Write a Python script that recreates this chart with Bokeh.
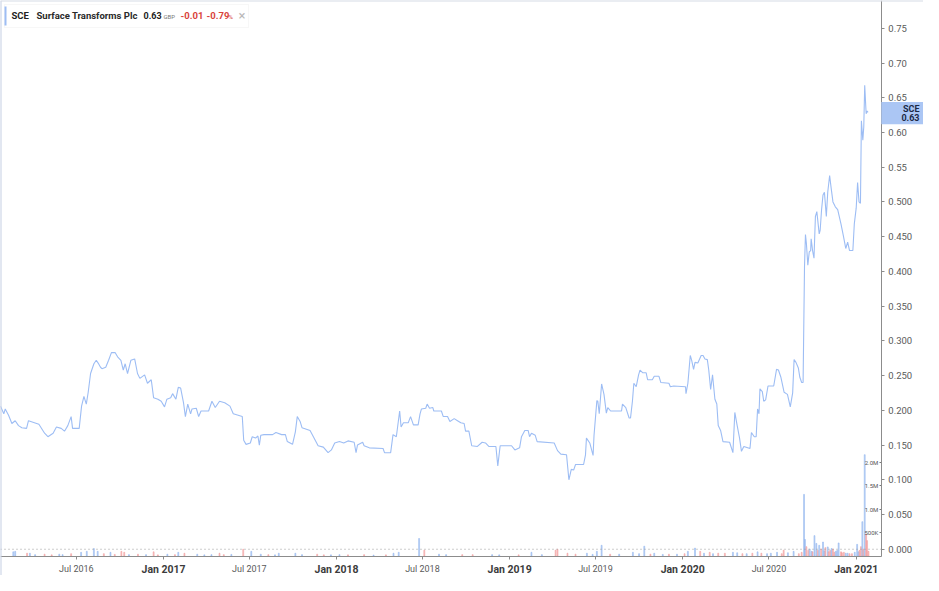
import pandas as pd
from bokeh.plotting import figure
from bokeh.models import (Range1d, FixedTicker, DatetimeTickFormatter, DatetimeAxis, LinearAxis,
                          Label, BoxAnnotation, Span, ColumnDataSource)
from bokeh.embed import file_html
from bokeh.resources import INLINE

# ---------------- data ----------------
price_dates = [
    "2016-01-23", "2016-01-30", "2016-02-02", "2016-02-09", "2016-02-16", "2016-02-23", "2016-03-01",
    "2016-03-08", "2016-03-18", "2016-03-22", "2016-04-13", "2016-04-25", "2016-05-02", "2016-05-13",
    "2016-05-20", "2016-05-30", "2016-06-06", "2016-06-13", "2016-06-20", "2016-06-23", "2016-07-07",
    "2016-07-12", "2016-07-17", "2016-07-22", "2016-07-26", "2016-07-31", "2016-08-07", "2016-08-12",
    "2016-08-16", "2016-08-21", "2016-08-24", "2016-09-01", "2016-09-07", "2016-09-13", "2016-09-21",
    "2016-09-26", "2016-10-03", "2016-10-08", "2016-10-12", "2016-10-17", "2016-10-24", "2016-11-01",
    "2016-11-07", "2016-11-12", "2016-11-22", "2016-11-28", "2016-12-06", "2016-12-11", "2016-12-20",
    "2016-12-27", "2017-01-03", "2017-01-08", "2017-01-16", "2017-01-20", "2017-01-27", "2017-02-01",
    "2017-02-06", "2017-02-12", "2017-02-16", "2017-02-21", "2017-02-27", "2017-03-02", "2017-03-11",
    "2017-03-16", "2017-03-21", "2017-04-06", "2017-04-13", "2017-04-20", "2017-04-29", "2017-05-10",
    "2017-05-21", "2017-05-28", "2017-06-16", "2017-06-19", "2017-06-24", "2017-07-03", "2017-07-07",
    "2017-07-14", "2017-07-19", "2017-07-22", "2017-07-25", "2017-08-01", "2017-08-19", "2017-08-26",
    "2017-09-07", "2017-09-15", "2017-09-19", "2017-09-30", "2017-10-06", "2017-10-10", "2017-10-16",
    "2017-10-20", "2017-11-06", "2017-11-13", "2017-11-23", "2017-12-04", "2017-12-14", "2017-12-21",
    "2017-12-28", "2018-01-07", "2018-01-16", "2018-01-25", "2018-02-07", "2018-02-11", "2018-02-14",
    "2018-02-25", "2018-02-28", "2018-03-11", "2018-04-09", "2018-04-12", "2018-04-25", "2018-04-30",
    "2018-05-07", "2018-05-14", "2018-05-17", "2018-05-22", "2018-06-01", "2018-06-06", "2018-06-12",
    "2018-06-22", "2018-06-26", "2018-06-29", "2018-07-08", "2018-07-11", "2018-07-16", "2018-07-23",
    "2018-07-25", "2018-08-10", "2018-08-14", "2018-08-23", "2018-08-28", "2018-09-06", "2018-09-13",
    "2018-09-20", "2018-09-27", "2018-09-30", "2018-10-07", "2018-10-13", "2018-10-25", "2018-11-04",
    "2018-11-11", "2018-11-18", "2018-12-03", "2018-12-07", "2018-12-12", "2019-01-05", "2019-01-12",
    "2019-01-22", "2019-01-26", "2019-02-02", "2019-02-09", "2019-02-12", "2019-02-16", "2019-02-24",
    "2019-02-28", "2019-04-05", "2019-04-12", "2019-04-19", "2019-05-01", "2019-05-06", "2019-05-11",
    "2019-05-16", "2019-05-20", "2019-06-06", "2019-06-10", "2019-06-12", "2019-06-19", "2019-06-26",
    "2019-06-28", "2019-07-04", "2019-07-06", "2019-07-09", "2019-07-14", "2019-07-19", "2019-07-24",
    "2019-07-27", "2019-08-02", "2019-08-25", "2019-08-27", "2019-09-03", "2019-09-10", "2019-09-13",
    "2019-09-17", "2019-09-20", "2019-09-25", "2019-09-30", "2019-10-03", "2019-10-09", "2019-10-16",
    "2019-10-19", "2019-10-29", "2019-11-02", "2019-11-12", "2019-11-16", "2019-12-03", "2019-12-06",
    "2019-12-13", "2020-01-07", "2020-01-08", "2020-01-12", "2020-01-17", "2020-01-20", "2020-01-24",
    "2020-01-27", "2020-02-02", "2020-02-09", "2020-02-13", "2020-02-17", "2020-02-22", "2020-02-25",
    "2020-02-29", "2020-03-04", "2020-03-09", "2020-03-13", "2020-03-16", "2020-03-21", "2020-03-26",
    "2020-04-09", "2020-04-16", "2020-04-20", "2020-04-25", "2020-04-30", "2020-05-04", "2020-05-09",
    "2020-05-22", "2020-05-25", "2020-05-31", "2020-06-04", "2020-06-07", "2020-06-10", "2020-06-12",
    "2020-06-17", "2020-06-20", "2020-06-24", "2020-06-29", "2020-07-11", "2020-07-17", "2020-07-21",
    "2020-07-26", "2020-08-02", "2020-08-09", "2020-08-15", "2020-08-20", "2020-08-23", "2020-08-27",
    "2020-09-01", "2020-09-04", "2020-09-08", "2020-09-11", "2020-09-14", "2020-09-16", "2020-09-18",
    "2020-09-21", "2020-09-24", "2020-09-27", "2020-09-28", "2020-10-01", "2020-10-04", "2020-10-07",
    "2020-10-10", "2020-10-15", "2020-10-17", "2020-10-20", "2020-10-23", "2020-10-26", "2020-10-30",
    "2020-11-02", "2020-11-06", "2020-11-09", "2020-11-13", "2020-11-18", "2020-11-23", "2020-11-30",
    "2020-12-05", "2020-12-10", "2020-12-14", "2020-12-18", "2020-12-25", "2020-12-28", "2021-01-01",
    "2021-01-04", "2021-01-07", "2021-01-10", "2021-01-12", "2021-01-15", "2021-01-17", "2021-01-19",
    "2021-01-22", "2021-01-24", "2021-01-26",
]
price_values = [
    0.206, 0.195, 0.202, 0.193, 0.181, 0.185, 0.178,
    0.175, 0.174, 0.185, 0.180, 0.167, 0.162, 0.167,
    0.176, 0.174, 0.170, 0.178, 0.191, 0.174, 0.174,
    0.206, 0.220, 0.209, 0.226, 0.253, 0.267, 0.272,
    0.268, 0.262, 0.260, 0.262, 0.272, 0.283, 0.283,
    0.277, 0.272, 0.258, 0.267, 0.253, 0.272, 0.274,
    0.253, 0.246, 0.251, 0.239, 0.244, 0.218, 0.216,
    0.213, 0.205, 0.216, 0.218, 0.224, 0.216, 0.233,
    0.232, 0.211, 0.191, 0.209, 0.195, 0.202, 0.203,
    0.191, 0.199, 0.199, 0.213, 0.204, 0.213, 0.211,
    0.206, 0.195, 0.191, 0.157, 0.151, 0.153, 0.162,
    0.160, 0.163, 0.150, 0.164, 0.165, 0.165, 0.168,
    0.165, 0.165, 0.155, 0.151, 0.169, 0.191, 0.184,
    0.175, 0.171, 0.162, 0.149, 0.147, 0.139, 0.143,
    0.153, 0.155, 0.153, 0.156, 0.154, 0.139, 0.150,
    0.154, 0.149, 0.146, 0.145, 0.139, 0.139, 0.165,
    0.162, 0.199, 0.176, 0.182, 0.182, 0.191, 0.179,
    0.179, 0.195, 0.202, 0.203, 0.209, 0.203, 0.204,
    0.199, 0.199, 0.191, 0.191, 0.184, 0.188, 0.185,
    0.182, 0.181, 0.170, 0.170, 0.149, 0.148, 0.154,
    0.153, 0.148, 0.148, 0.120, 0.149, 0.149, 0.143,
    0.146, 0.162, 0.171, 0.171, 0.162, 0.167, 0.164,
    0.155, 0.153, 0.142, 0.137, 0.136, 0.100, 0.115,
    0.114, 0.122, 0.122, 0.136, 0.160, 0.153, 0.135,
    0.164, 0.214, 0.213, 0.195, 0.238, 0.223, 0.196,
    0.204, 0.199, 0.199, 0.209, 0.204, 0.189, 0.189,
    0.213, 0.239, 0.234, 0.251, 0.258, 0.254, 0.254,
    0.244, 0.244, 0.249, 0.249, 0.240, 0.239, 0.234,
    0.235, 0.234, 0.224, 0.239, 0.279, 0.272, 0.259,
    0.269, 0.268, 0.279, 0.279, 0.274, 0.273, 0.258,
    0.230, 0.251, 0.216, 0.209, 0.178, 0.171, 0.155,
    0.154, 0.139, 0.197, 0.178, 0.160, 0.141, 0.148,
    0.145, 0.168, 0.162, 0.162, 0.202, 0.195, 0.231,
    0.227, 0.213, 0.215, 0.235, 0.235, 0.259, 0.258,
    0.248, 0.226, 0.223, 0.205, 0.225, 0.273, 0.269,
    0.261, 0.248, 0.240, 0.240, 0.407, 0.453, 0.440,
    0.409, 0.428, 0.430, 0.447, 0.430, 0.419, 0.479,
    0.486, 0.454, 0.459, 0.489, 0.510, 0.514, 0.479,
    0.514, 0.538, 0.521, 0.500, 0.493, 0.489, 0.468,
    0.451, 0.433, 0.442, 0.430, 0.430, 0.468, 0.491,
    0.528, 0.500, 0.498, 0.617, 0.589, 0.608, 0.668,
    0.627, 0.631, 0.629,
]

vol_dates = [
    "2016-02-19", "2016-02-23", "2016-03-19", "2016-03-25", "2016-04-05", "2016-04-25", "2016-05-10",
    "2016-05-26", "2016-06-02", "2016-06-20", "2016-07-11", "2016-07-23", "2016-08-07", "2016-08-15",
    "2016-08-28", "2016-09-11", "2016-09-20", "2016-10-04", "2016-10-10", "2016-10-20", "2016-11-08",
    "2016-11-25", "2016-12-11", "2016-12-20", "2017-01-09", "2017-01-25", "2017-02-01", "2017-02-14",
    "2017-03-13", "2017-03-28", "2017-04-12", "2017-04-29", "2017-05-08", "2017-05-24", "2017-06-18",
    "2017-07-05", "2017-07-25", "2017-08-10", "2017-08-24", "2017-09-01", "2017-10-06", "2017-10-20",
    "2017-11-21", "2017-12-05", "2017-12-20", "2018-01-07", "2018-01-25", "2018-02-28", "2018-03-20",
    "2018-04-15", "2018-05-01", "2018-05-12", "2018-06-24", "2018-07-05", "2018-08-05", "2018-08-20",
    "2018-09-23", "2018-10-15", "2018-11-25", "2018-12-10", "2019-01-20", "2019-02-16", "2019-03-10",
    "2019-04-08", "2019-04-12", "2019-05-03", "2019-05-20", "2019-06-13", "2019-06-25", "2019-07-04",
    "2019-07-14", "2019-08-01", "2019-08-20", "2019-09-18", "2019-10-01", "2019-10-12", "2019-10-25",
    "2019-11-02", "2019-11-20", "2019-12-03", "2019-12-20", "2020-01-05", "2020-01-12", "2020-01-27",
    "2020-02-07", "2020-02-15", "2020-02-27", "2020-03-05", "2020-03-16", "2020-03-30", "2020-04-16",
    "2020-04-25", "2020-05-06", "2020-05-15", "2020-05-27", "2020-06-07", "2020-06-15", "2020-06-27",
    "2020-07-05", "2020-07-18", "2020-07-28", "2020-08-01", "2020-08-10", "2020-08-22", "2020-09-02",
    "2020-09-08", "2020-09-13", "2020-09-15", "2020-09-18", "2020-09-22", "2020-09-25", "2020-09-29",
    "2020-10-01", "2020-10-05", "2020-10-09", "2020-10-12", "2020-10-15", "2020-10-19", "2020-10-23",
    "2020-10-26", "2020-10-28", "2020-11-02", "2020-11-04", "2020-11-07", "2020-11-10", "2020-11-13",
    "2020-11-16", "2020-11-19", "2020-11-22", "2020-11-25", "2020-11-30", "2020-12-02", "2020-12-06",
    "2020-12-10", "2020-12-14", "2020-12-18", "2020-12-23", "2020-12-29", "2021-01-03", "2021-01-06",
    "2021-01-08", "2021-01-11", "2021-01-14", "2021-01-16", "2021-01-19", "2021-01-22", "2021-01-24",
    "2021-01-27",
]
vol_values = [
    90e3, 100e3, 60e3, 60e3, 30e3, 40e3, 25e3,
    40e3, 30e3, 50e3, 80e3, 100e3, 160e3, 100e3,
    50e3, 80e3, 35e3, 100e3, 80e3, 30e3, 40e3,
    30e3, 90e3, 25e3, 40e3, 30e3, 80e3, 60e3,
    40e3, 25e3, 30e3, 60e3, 30e3, 35e3, 146e3,
    100e3, 40e3, 30e3, 25e3, 60e3, 60e3, 30e3,
    40e3, 25e3, 25e3, 30e3, 25e3, 30e3, 20e3,
    25e3, 60e3, 80e3, 375e3, 125e3, 40e3, 30e3,
    30e3, 30e3, 30e3, 25e3, 25e3, 80e3, 30e3,
    125e3, 146e3, 60e3, 40e3, 60e3, 35e3, 100e3,
    230e3, 40e3, 40e3, 80e3, 50e3, 210e3, 40e3,
    60e3, 35e3, 40e3, 40e3, 50e3, 100e3, 170e3,
    100e3, 60e3, 80e3, 50e3, 60e3, 60e3, 80e3,
    70e3, 50e3, 50e3, 60e3, 90e3, 60e3, 50e3,
    60e3, 80e3, 50e3, 125e3, 70e3, 100e3, 50e3,
    80e3, 1320e3, 354e3, 200e3, 120e3, 150e3, 100e3,
    90e3, 437e3, 270e3, 120e3, 230e3, 150e3, 300e3,
    110e3, 180e3, 195e3, 90e3, 120e3, 160e3, 150e3,
    80e3, 100e3, 120e3, 280e3, 90e3, 70e3, 80e3,
    60e3, 60e3, 50e3, 50e3, 80e3, 250e3, 90e3,
    120e3, 200e3, 735e3, 150e3, 2170e3, 470e3, 330e3,
    100e3,
]
vol_up = [
    1, 1, 0, 1, 1, 0, 0,
    1, 1, 0, 1, 1, 1, 1,
    0, 1, 0, 0, 0, 1, 0,
    1, 0, 0, 1, 0, 1, 0,
    1, 1, 1, 0, 0, 1, 0,
    1, 1, 0, 1, 1, 1, 1,
    0, 0, 1, 1, 0, 0, 1,
    0, 1, 1, 1, 0, 1, 1,
    0, 0, 1, 1, 0, 1, 1,
    0, 0, 0, 0, 1, 1, 1,
    1, 0, 1, 1, 1, 1, 0,
    1, 1, 0, 1, 0, 1, 1,
    0, 1, 0, 1, 0, 0, 1,
    1, 0, 1, 0, 1, 0, 1,
    1, 1, 0, 0, 1, 1, 0,
    0, 1, 1, 0, 0, 1, 1,
    0, 1, 1, 0, 1, 0, 1,
    1, 0, 1, 0, 0, 1, 0,
    0, 1, 1, 1, 0, 0, 0,
    1, 1, 0, 0, 1, 1, 1,
    0, 0, 1, 0, 1, 0, 0,
    0,
]

price_ticks = [0.0, 0.05, 0.1, 0.15, 0.2, 0.25, 0.3, 0.35, 0.4, 0.45, 0.5, 0.55, 0.6, 0.65, 0.7, 0.75]
price_tick_labels = ["0.000", "0.050", "0.100", "0.150", "0.200", "0.250", "0.300", "0.350",
                     "0.400", "0.450", "0.500", "0.55", "0.60", "0.65", "0.70", "0.75"]
jan_ticks = ["2017-01-01", "2018-01-01", "2019-01-01", "2020-01-01", "2021-01-01"]
jul_ticks = ["2016-07-01", "2017-07-01", "2018-07-01", "2019-07-01", "2020-07-01"]
vol_ticks = [500e3, 1.0e6, 1.5e6, 2.0e6]
vol_tick_labels = ["500K", "1.0M", "1.5M", "2.0M"]

symbol = "SCE"
name = "Surface Transforms Plc"
last_price = 0.63
change = "-0.01"
change_pct = "-0.79"
currency = "GBP"

# view window (time / price / volume) and the place of the two axes
x_start, x_end = "2016-01-23", "2021-05-23"
axis_date = "2021-02-23"          # where the price axis stands
y_start, y_end = -0.0378, 0.79
axis_price = -0.0098              # where the time axis stands
vol_start, vol_end = -416.7e3, 11.896e6

# ---------------- figure ----------------
FONT = "Roboto"
LINE = "#9dbdf4"
AX = "#8c8c8c"
W, H = 923, 575


def ms(s):
    return pd.Timestamp(s).value / 1e6


p = figure(width=W, height=H, x_axis_type="datetime", y_axis_location="right",
           output_backend="svg", toolbar_location=None,
           x_range=Range1d(ms(x_start), ms(x_end)),
           y_range=Range1d(y_start, y_end),
           min_border_left=0, min_border_top=0, min_border_right=0, min_border_bottom=0)
p.extra_y_ranges = {"vol": Range1d(vol_start, vol_end)}
p.grid.visible = False
p.outline_line_color = None
p.background_fill_color = "white"
p.border_fill_color = "white"

# frame edges (top and left)
p.add_layout(Span(location=ms(x_start), dimension="height", line_color="#c5d0e3", line_width=2))
p.add_layout(Span(location=y_end, dimension="width", line_color="#d5dbe6", line_width=2))

# last-price marker on the price axis
p.add_layout(BoxAnnotation(left=ms(axis_date), right=ms(x_end), top=0.644, bottom=0.612,
                           fill_color="#abc6f4", fill_alpha=1.0, line_color=None))

# volume bars
vsrc = ColumnDataSource(dict(
    x=pd.to_datetime(vol_dates),
    top=vol_values,
    color=["#8fb4ee" if u else "#f29a9a" for u in vol_up],
))
p.vbar(x="x", top="top", bottom=0, width=2 * 86400000, color="color", alpha=0.55,
       source=vsrc, y_range_name="vol")

# dotted zero line
p.segment(x0=[ms(x_start)], y0=[0.0], x1=[ms(axis_date)], y1=[0.0],
          line_color="#9a9a9a", line_dash="1 3", line_width=1)

# price line
psrc = ColumnDataSource(dict(x=pd.to_datetime(price_dates), y=price_values))
p.line("x", "y", source=psrc, line_color=LINE, line_width=1.1)

# ---- price axis (right) ----
ya = p.yaxis[0]
ya.fixed_location = ms(axis_date)
ya.bounds = (axis_price, y_end)
ya.ticker = FixedTicker(ticks=price_ticks)
ya.major_label_overrides = {t: l for t, l in zip(price_ticks, price_tick_labels)}
ya.axis_line_color = AX
ya.major_tick_line_color = AX
ya.major_tick_out = 3
ya.major_tick_in = 0
ya.minor_tick_line_color = None
ya.major_label_text_font = FONT
ya.major_label_text_font_size = "9.5px"
ya.major_label_text_color = "#5a5a5a"
ya.major_label_standoff = 4

# ---- volume scale (inside, left of the price axis) ----
va = LinearAxis(y_range_name="vol", fixed_location=ms(axis_date),
                ticker=FixedTicker(ticks=vol_ticks), bounds=(0, 2.2e6))
va.major_label_overrides = {t: l for t, l in zip(vol_ticks, vol_tick_labels)}
va.axis_line_color = None
va.major_tick_line_color = "#777777"
va.major_tick_out = 2
va.major_tick_in = 0
va.minor_tick_line_color = None
va.major_label_text_font = FONT
va.major_label_text_font_size = "6px"
va.major_label_text_color = "#555555"
va.major_label_standoff = 1
p.add_layout(va, "left")

# ---- time axes (Jan: bold, Jul: regular) ----
fmt = DatetimeTickFormatter(days="%b %Y", months="%b %Y", years="%b %Y")
xa = p.xaxis[0]
xa.fixed_location = axis_price
xa.bounds = (ms(x_start), ms(axis_date))
xa.ticker = FixedTicker(ticks=[ms(d) for d in jan_ticks])
xa.formatter = fmt
xa.axis_line_color = AX
xa.major_tick_line_color = AX
xa.major_tick_out = 3
xa.major_tick_in = 0
xa.minor_tick_line_color = None
xa.major_label_text_font = FONT
xa.major_label_text_font_size = "10.5px"
xa.major_label_text_font_style = "bold"
xa.major_label_text_color = "#3c3c3c"
xa.major_label_standoff = 4

xj = DatetimeAxis(fixed_location=axis_price, ticker=FixedTicker(ticks=[ms(d) for d in jul_ticks]),
                  formatter=fmt)
xj.axis_line_color = None
xj.major_tick_line_color = AX
xj.major_tick_out = 3
xj.major_tick_in = 0
xj.minor_tick_line_color = None
xj.major_label_text_font = FONT
xj.major_label_text_font_size = "9px"
xj.major_label_text_color = "#5a5a5a"
xj.major_label_standoff = 5
p.add_layout(xj, "below")

# last-price marker texts
for txt, yv in [(symbol, 0.634), (f"{last_price:.2f}", 0.622)]:
    p.add_layout(Label(x=ms(x_end), y=yv, x_offset=-4, text=txt, text_align="right",
                       text_baseline="middle", text_font=FONT, text_font_size="9px",
                       text_font_style="bold", text_color="#1d2a45"))

# ---- legend box, top-left ----
p.add_layout(BoxAnnotation(left=4, right=248, top=H - 4, bottom=H - 27,
                           left_units="screen", right_units="screen",
                           top_units="screen", bottom_units="screen",
                           fill_color="white", fill_alpha=1.0, line_color="#e3e3e3",
                           line_width=1, level="overlay"))
p.add_layout(BoxAnnotation(left=4, right=6, top=H - 6, bottom=H - 25,
                           left_units="screen", right_units="screen",
                           top_units="screen", bottom_units="screen",
                           fill_color=LINE, fill_alpha=1.0, line_color=None, level="overlay"))
LY = H - 15


def leg(x, text, size="9.5px", style="bold", color="#222222", dy=0):
    p.add_layout(Label(x=x, y=LY + dy, x_units="screen", y_units="screen", text=text,
                       text_baseline="middle", text_font=FONT, text_font_size=size,
                       text_font_style=style, text_color=color, level="overlay"))


leg(11, symbol)
leg(36, name, color="#2a2a2a")
leg(143, f"{last_price:.2f}", size="9px")
leg(163, currency, size="6px", style="normal", color="#777777", dy=-1)
leg(180, change, color="#d9443c")
leg(206, change_pct, color="#d9443c")
leg(228, "%", size="6px", style="normal", color="#d9443c", dy=-1)
leg(238, "×", size="13px", style="normal", color="#b8b8b8")

open("out.html", "w").write(file_html(p, INLINE))
